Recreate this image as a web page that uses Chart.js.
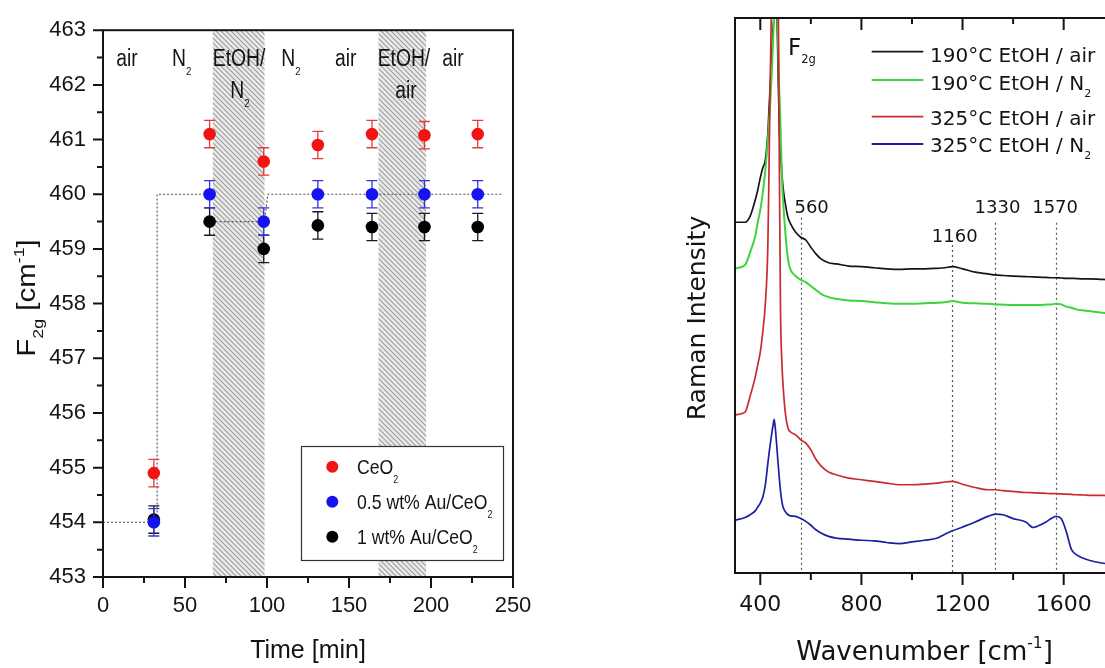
<!DOCTYPE html>
<html><head><meta charset="utf-8">
<script src="https://cdn.jsdelivr.net/npm/chart.js@4.4.1/dist/chart.umd.min.js"></script>
<style>
html,body{margin:0;padding:0;background:#fff;overflow:hidden;width:1105px;height:668px;position:relative;}
#c1{position:absolute;left:0;top:0;}
#c2{position:absolute;left:680px;top:0;}
</style></head><body>
<canvas id="c1" width="560" height="668"></canvas>
<canvas id="c2" width="450" height="668"></canvas>
<script>
// ================= Panel (a): F2g position vs time =================
const times   = [31, 65, 98, 131, 164, 196, 228.5];
const ceo2    = [454.9, 461.1, 460.6, 460.9, 461.1, 461.08, 461.1];
const au05    = [454.0, 460.0, 459.5, 460.0, 460.0, 460.0, 460.0];
const au1     = [454.05, 459.5, 459.0, 459.43, 459.4, 459.4, 459.4];
const ceo2Err = [0.25, 0.25, 0.25, 0.25, 0.25, 0.25, 0.25];
const au05Err = [0.25, 0.25, 0.25, 0.25, 0.25, 0.25, 0.25];
const au1Err  = [0.25, 0.25, 0.25, 0.25, 0.25, 0.25, 0.25];
const stepX   = [0, 33, 33, 65, 65, 98.5, 100.5, 243];
const stepY   = [454, 454, 460, 460, 459.5, 459.5, 460, 460];
const bandStart = [67, 168];
const bandEnd   = [98.5, 197];
const gasText = ['air', 'N_{2}', 'EtOH/', 'N_{2}', 'N_{2}', 'air', 'EtOH/', 'air', 'air'];
const gasX    = [14.6, 48, 83, 83.5, 114.6, 148, 183.5, 184.7, 213.4];
const gasY    = [462.35, 462.35, 462.35, 461.76, 462.35, 462.35, 462.35, 461.76, 462.35];
const legendA = ['CeO_{2}', '0.5 wt% Au/CeO_{2}', '1 wt% Au/CeO_{2}'];
const xTicksA = [0, 50, 100, 150, 200, 250];
const xMinorA = [25, 75, 125, 175, 225];
const yTicksA = [453, 454, 455, 456, 457, 458, 459, 460, 461, 462, 463];
const yMinorA = [453.5, 454.5, 455.5, 456.5, 457.5, 458.5, 459.5, 460.5, 461.5, 462.5];

// ================= Panel (b): Raman spectra =================
const wn = [300,340,360,380,390, 400,410,420,430,435, 440,445,450,455,460,
  465,470,475,480,485, 490,500,510,520,540, 560,580,600,620,640,
  670,700,750,800,850, 900,950,1000,1050,1100, 1130,1160,1200,1250,1300,
  1330,1360,1400,1450,1480, 1500,1530,1550,1570,1590, 1610,1630,1650,1680,1700,
  1750,1800];
const s190air = [63.2,63.2,64.3,67.2,69.0, 71.2,73.0,74.4,79.3,84.0, 88.5,93.3,97.8,101,108,
  103,91.2,80.7,76.2,72.3, 69.5,66.3,64.0,62.9,61.4, 60.5,60.0,58.7,57.5,56.6,
  55.9,55.7,55.3,55.2,55.0, 54.8,54.7,54.8,54.8,54.9, 55.0,55.2,54.8,54.2,53.9,
  53.7,53.6,53.5,53.4,53.35, 53.3,53.25,53.2,53.2,53.15, 53.1,53.1,53.05,53.0,53.0,
  52.9,52.8];
const s190n2 = [54.9,55.5,57.8,60.7,63.2, 65.4,68.6,72.6,78.0,81.5, 85.2,89.7,95.1,101,108,
  106,96.0,87.0,80.7,71.7, 67.2,60.9,56.4,54.6,53.5, 52.8,52.4,51.7,51.0,50.3,
  49.7,49.4,49.1,49.0,48.8, 48.6,48.5,48.5,48.6,48.7, 48.8,49.0,48.7,48.6,48.5,
  48.4,48.35,48.3,48.3,48.3, 48.3,48.35,48.4,48.5,48.4, 48.0,47.8,47.5,47.3,47.2,
  46.9,46.8];
const s325air = [28.5,29.0,31.9,35.3,37.5, 39.8,43.5,48.5,59.1,74.4, 90.6,105,121,139,139,
  130,112,76.2,47.4,38.4, 33.9,28.5,26.1,25.4,24.9, 24.0,23.4,22.2,20.5,19.3,
  18.2,17.7,17.1,16.8,16.5, 16.2,15.9,15.9,16.0,16.2, 16.4,16.5,16.0,15.4,15.0,
  15.0,14.85,14.7,14.5,14.45, 14.4,14.35,14.3,14.3,14.25, 14.2,14.15,14.1,14.05,14.0,
  14.0,13.9];
const s325n2 = [9.5,10.0,10.5,11.2,11.9, 12.6,13.7,15.9,19.8,21.7, 23.4,25.0,26.5,27.7,25.8,
  23.0,20.0,17.2,14.8,13.0, 11.9,11.0,10.5,10.3,10.2, 9.8,9.3,8.6,7.8,7.2,
  6.6,6.3,6.1,5.9,5.8, 5.5,5.3,5.6,5.9,6.3, 7.0,7.6,8.3,9.2,10.2,
  10.6,10.5,9.8,9.2,8.2, 8.5,9.2,9.8,10.2,9.8, 7.5,4.3,3.3,2.6,2.3,
  1.8,1.5];
const seriesNames = ['190°C EtOH / air', '190°C EtOH / N_{2}', '325°C EtOH / air', '325°C EtOH / N_{2}'];
const peakPos   = [560, 1160, 1330, 1570];
const peakText  = ['560', '1160', '1330', '1570'];
const peakTextX = [603, 1169, 1338, 1566];
const peakTextY = [64.9, 59.6, 64.9, 64.9];
const peakTop   = [64.0, 59.1, 63.1, 63.1];
const xTicksB = [400, 800, 1200, 1600];
const xMinorB = [600, 1000, 1400];

// ================= helpers =================
const SANS = "'Liberation Sans',Arial,sans-serif";
const DJV = "'DejaVu Sans',sans-serif";
const INK = '#141414';

function parseRich(s){
  const parts=[]; const re=/([_^])\{([^}]*)\}/g; let last=0,m;
  while((m=re.exec(s))){
    if(m.index>last) parts.push({t:s.slice(last,m.index),k:0});
    parts.push({t:m[2],k:m[1]==='_'?1:-1}); last=re.lastIndex;
  }
  if(last<s.length) parts.push({t:s.slice(last),k:0});
  return parts;
}
function drawRich(ctx,s,x,y,o){
  const size=o.size, fam=o.family, sc=o.subScale||0.55, sx=o.sx||1;
  const parts=parseRich(s); const ws=[]; let w=0;
  parts.forEach(p=>{ctx.font=(p.k?size*sc:size)+'px '+fam; const pw=ctx.measureText(p.t).width; ws.push(pw); w+=pw;});
  const W=w*sx;
  const x0 = o.align==='center'? x-W/2 : (o.align==='right'? x-W : x);
  ctx.save(); ctx.translate(x0,y); ctx.scale(sx,1);
  ctx.fillStyle=o.color||INK; ctx.textAlign='left'; ctx.textBaseline='alphabetic';
  let cx=0;
  parts.forEach((p,i)=>{
    ctx.font=(p.k?size*sc:size)+'px '+fam;
    const dy = p.k===1 ? size*(o.subDy||0.38) : (p.k===-1 ? -size*(o.supDy||0.42) : 0);
    ctx.fillText(p.t,cx,dy); cx+=ws[i];
  });
  ctx.restore(); return W;
}
function makeHatch(){
  const n=5, p=document.createElement('canvas'); p.width=n; p.height=n; const c=p.getContext('2d');
  c.fillStyle='#ebebeb'; c.fillRect(0,0,n,n);
  c.strokeStyle='#9e9e9e'; c.lineWidth=1.2;
  c.beginPath(); c.moveTo(-1,-1); c.lineTo(n+1,n+1);
  c.moveTo(-1,n-1); c.lineTo(1,n+1); c.moveTo(n-1,-1); c.lineTo(n+1,1); c.stroke();
  return p;
}

// ================= chart (a) =================
const RED='#f21414', BLUE='#1414f0', BLK='#000000';
const plugA = {
  id:'plugA',
  beforeDatasetsDraw(chart){
    const {ctx, chartArea:a, scales:{x}} = chart;
    ctx.save();
    ctx.beginPath(); ctx.rect(a.left,a.top,a.right-a.left,a.bottom-a.top); ctx.clip();
    ctx.fillStyle = ctx.createPattern(makeHatch(),'repeat');
    bandStart.forEach((s,i)=>{
      const x0=x.getPixelForValue(s), x1=x.getPixelForValue(bandEnd[i]);
      ctx.fillRect(x0,a.top,x1-x0,a.bottom-a.top);
    });
    ctx.restore();
  },
  beforeDatasetDraw(chart,args){
    const ds=chart.data.datasets[args.index]; if(!ds.errors) return;
    const {ctx, scales:{y}} = chart; const meta=chart.getDatasetMeta(args.index);
    ctx.save(); ctx.strokeStyle=ds.errColor; ctx.lineWidth=1.3; ctx.beginPath();
    meta.data.forEach((pt,i)=>{
      const v=ds.data[i].y, e=ds.errors[i];
      const y0=y.getPixelForValue(v+e), y1=y.getPixelForValue(v-e);
      ctx.moveTo(pt.x,y0); ctx.lineTo(pt.x,y1);
      ctx.moveTo(pt.x-5.5,y0); ctx.lineTo(pt.x+5.5,y0);
      ctx.moveTo(pt.x-5.5,y1); ctx.lineTo(pt.x+5.5,y1);
    });
    ctx.stroke(); ctx.restore();
  },
  afterDraw(chart){
    const {ctx, chartArea:a, scales:{x,y}} = chart;
    ctx.save();
    ctx.strokeStyle=INK; ctx.lineWidth=2;
    ctx.strokeRect(a.left,a.top,a.right-a.left,a.bottom-a.top);
    ctx.beginPath();
    xTicksA.forEach(v=>{const px=x.getPixelForValue(v); ctx.moveTo(px,a.bottom); ctx.lineTo(px,a.bottom+11);});
    xMinorA.forEach(v=>{const px=x.getPixelForValue(v); ctx.moveTo(px,a.bottom); ctx.lineTo(px,a.bottom+6);});
    yTicksA.forEach(v=>{const py=y.getPixelForValue(v); ctx.moveTo(a.left,py); ctx.lineTo(a.left-10,py);});
    yMinorA.forEach(v=>{const py=y.getPixelForValue(v); ctx.moveTo(a.left,py); ctx.lineTo(a.left-6,py);});
    ctx.stroke();
    // gas atmosphere labels
    gasText.forEach((t,i)=>drawRich(ctx,t,x.getPixelForValue(gasX[i]),y.getPixelForValue(gasY[i]),
      {size:23,family:SANS,align:'center',subScale:0.5,subDy:0.4,sx:0.84}));
    // legend
    const lx=301, ly=446, lw=202, lh=114;
    ctx.fillStyle='#fff'; ctx.fillRect(lx,ly,lw,lh);
    ctx.strokeStyle='#333'; ctx.lineWidth=1.2; ctx.strokeRect(lx+0.5,ly+0.5,lw,lh);
    const cols=[RED,BLUE,BLK];
    legendA.forEach((t,i)=>{
      const cy=466.7+35*i;
      ctx.fillStyle=cols[i]; ctx.beginPath(); ctx.arc(332.3,cy,6,0,Math.PI*2); ctx.fill();
      drawRich(ctx,t,357,cy+7.5,{size:21,family:SANS,subScale:0.5,subDy:0.42,sx:0.84});
    });
    // y title
    ctx.translate(35,298); ctx.rotate(-Math.PI/2);
    drawRich(ctx,'F_{2g} [cm^{-1}]',0,0,{size:25,family:SANS,align:'center',subScale:0.6,subDy:0.33,supDy:0.45,sx:1.18});
    ctx.restore();
  }
};

new Chart(document.getElementById('c1'), {
  type:'scatter',
  data:{datasets:[
    {label:'CeO₂', data:times.map((t,i)=>({x:t,y:ceo2[i]})), errors:ceo2Err, errColor:'#e23c3c',
     backgroundColor:RED, borderColor:RED, borderWidth:0, pointRadius:6.3, pointHoverRadius:6.3},
    {label:'0.5 wt% Au/CeO₂', data:times.map((t,i)=>({x:t,y:au05[i]})), errors:au05Err, errColor:'#3434de',
     backgroundColor:BLUE, borderColor:BLUE, borderWidth:0, pointRadius:6.3, pointHoverRadius:6.3},
    {label:'1 wt% Au/CeO₂', data:times.map((t,i)=>({x:t,y:au1[i]})), errors:au1Err, errColor:'#1a1a1a',
     backgroundColor:BLK, borderColor:BLK, borderWidth:0, pointRadius:6.3, pointHoverRadius:6.3},
    {label:'step', type:'line', data:stepX.map((t,i)=>({x:t,y:stepY[i]})), borderColor:'#505050',
     borderWidth:1.1, borderDash:[2,2], pointRadius:0, fill:false, tension:0}
  ]},
  options:{
    responsive:false, animation:false, events:[],
    layout:{padding:{top:27,right:47,left:0,bottom:0}},
    plugins:{legend:{display:false}, tooltip:{enabled:false}},
    scales:{
      x:{type:'linear', min:0, max:250,
         afterBuildTicks:s=>{s.ticks=xTicksA.map(v=>({value:v}));},
         afterFit:s=>{s.height=91;},
         grid:{display:false, drawTicks:false, tickLength:0}, border:{display:false},
         ticks:{padding:16, color:INK, font:{family:SANS,size:22}, callback:v=>String(v)},
         title:{display:true, text:'Time [min]', color:INK, font:{family:SANS,size:25}, padding:{top:0,bottom:2}}},
      y:{type:'linear', min:453, max:463,
         afterBuildTicks:s=>{s.ticks=yTicksA.map(v=>({value:v}));},
         afterFit:s=>{s.width=103;},
         grid:{display:false, drawTicks:false, tickLength:0}, border:{display:false},
         ticks:{padding:17, color:INK, font:{family:SANS,size:22}, callback:v=>String(v)}}
    }
  },
  plugins:[plugA]
});

// ================= chart (b) =================
const colB=['#151515','#3fd43f','#cc2a2c','#1e1ea0'];
const plugB = {
  id:'plugB',
  beforeDatasetsDraw(chart){
    const {ctx, chartArea:a, scales:{x,y}} = chart;
    ctx.save(); ctx.strokeStyle='#555'; ctx.lineWidth=1.2; ctx.setLineDash([2,3]);
    ctx.beginPath();
    peakPos.forEach((p,i)=>{const px=Math.round(x.getPixelForValue(p))+0.5; ctx.moveTo(px,y.getPixelForValue(peakTop[i])); ctx.lineTo(px,a.bottom);});
    ctx.stroke(); ctx.restore();
  },
  afterDraw(chart){
    const {ctx, chartArea:a, scales:{x,y}} = chart;
    ctx.save();
    ctx.strokeStyle=INK; ctx.lineWidth=2;
    ctx.strokeRect(a.left,a.top,a.right-a.left,a.bottom-a.top);
    ctx.beginPath();
    xTicksB.forEach(v=>{const px=x.getPixelForValue(v); ctx.moveTo(px,a.bottom); ctx.lineTo(px,a.bottom+12); ctx.moveTo(px,a.top); ctx.lineTo(px,a.top+12);});
    xMinorB.forEach(v=>{const px=x.getPixelForValue(v); ctx.moveTo(px,a.bottom); ctx.lineTo(px,a.bottom+7); ctx.moveTo(px,a.top); ctx.lineTo(px,a.top+6);});
    ctx.stroke();
    // peak labels
    peakText.forEach((t,i)=>drawRich(ctx,t,x.getPixelForValue(peakTextX[i]),y.getPixelForValue(peakTextY[i]),{size:18,family:DJV,align:'center'}));
    // F2g
    drawRich(ctx,'F_{2g}',a.left+53,a.top+37,{size:23,family:DJV,subScale:0.5,subDy:0.35});
    // legend
    const rows=[51.7,80,116.7,144], base=[61.5,89.5,125,152];
    seriesNames.forEach((t,i)=>{
      ctx.strokeStyle=colB[i]; ctx.lineWidth=1.8; ctx.beginPath();
      ctx.moveTo(a.left+136.7,rows[i]); ctx.lineTo(a.left+188.3,rows[i]); ctx.stroke();
      drawRich(ctx,t,a.left+195,base[i],{size:20,family:DJV,subScale:0.55,subDy:0.35});
    });
    // x title
    drawRich(ctx,'Wavenumber [cm^{-1}]',(a.left+a.right)/2,660,{size:26,family:DJV,align:'center',subScale:0.6,supDy:0.45});
    // y title
    ctx.translate(25,318); ctx.rotate(-Math.PI/2);
    drawRich(ctx,'Raman Intensity',0,0,{size:25,family:DJV,align:'center'});
    ctx.restore();
  }
};
const specs=[s190air,s190n2,s325air,s325n2];
new Chart(document.getElementById('c2'), {
  type:'line',
  data:{datasets: specs.map((s,i)=>({
    label:seriesNames[i].replace('_{2}','₂'),
    data:wn.map((w,j)=>({x:w,y:s[j]})),
    borderColor:colB[i], borderWidth:i===1?2:1.7, pointRadius:0, fill:false,
    cubicInterpolationMode:'monotone', order:4-i
  }))},
  options:{
    responsive:false, animation:false, events:[],
    layout:{padding:{top:18,right:15.75,left:0,bottom:0}},
    plugins:{legend:{display:false}, tooltip:{enabled:false}},
    scales:{
      x:{type:'linear', min:300, max:1800,
         afterBuildTicks:s=>{s.ticks=xTicksB.map(v=>({value:v}));},
         afterFit:s=>{s.height=95;},
         grid:{display:false, drawTicks:false, tickLength:0}, border:{display:false},
         ticks:{padding:19, color:INK, font:{family:DJV,size:22}, callback:v=>String(v), maxRotation:0, autoSkip:false}},
      y:{type:'linear', min:0, max:100,
         afterFit:s=>{s.width=55;},
         grid:{display:false, drawTicks:false, tickLength:0}, border:{display:false},
         ticks:{display:false}}
    }
  },
  plugins:[plugB]
});
</script>
</body></html>
